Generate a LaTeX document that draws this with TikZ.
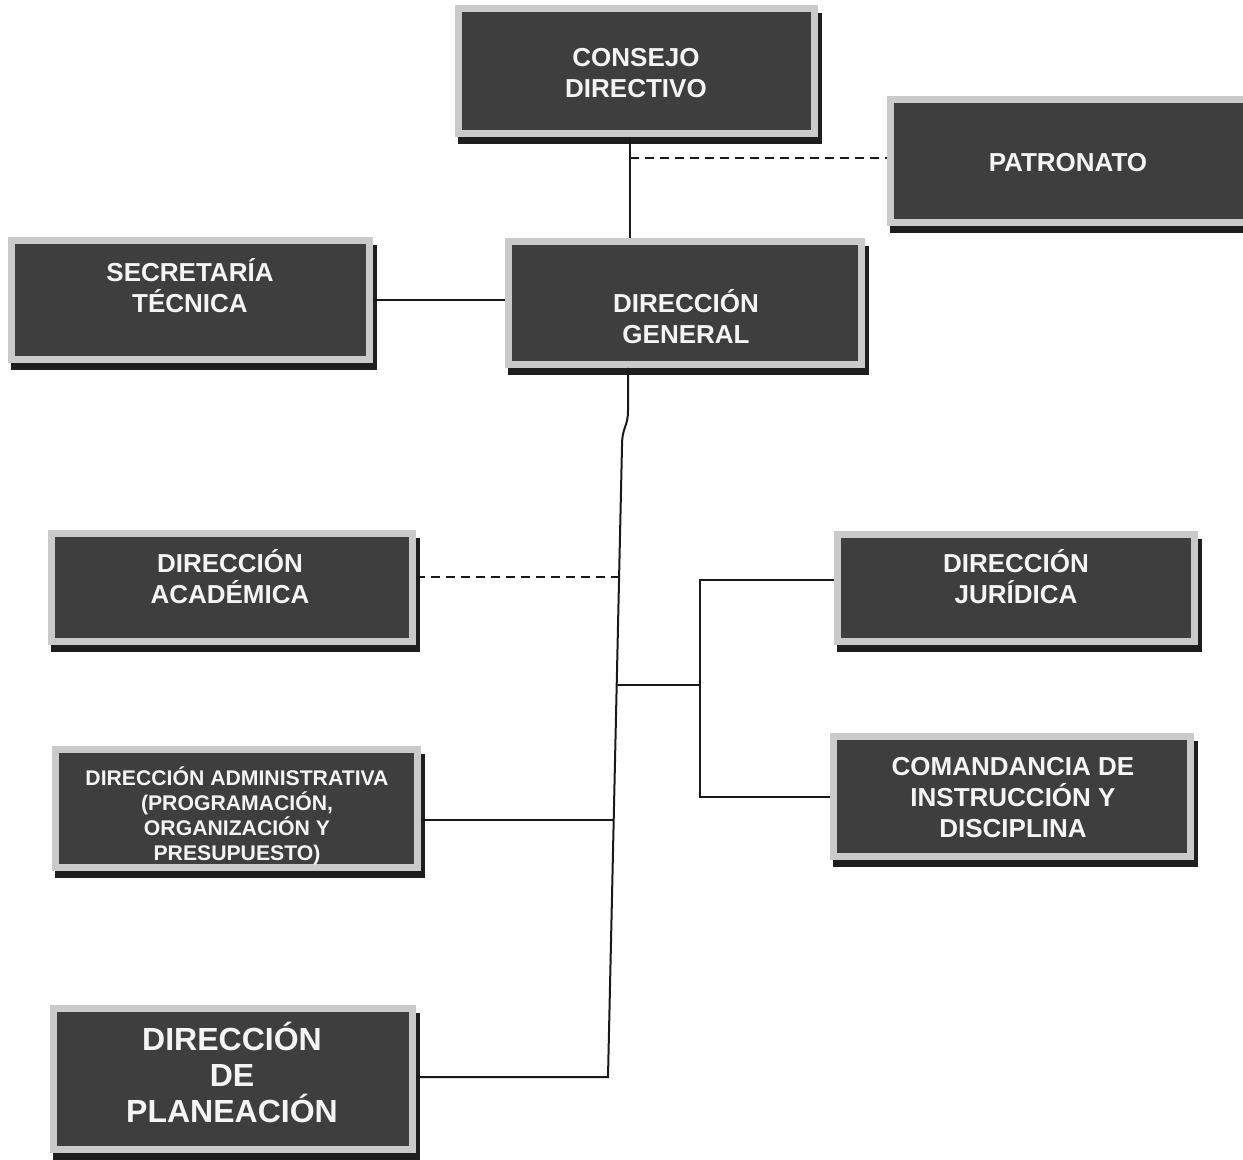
\documentclass[tikz,border=0pt]{standalone}
\usepackage{fontspec}
\setmainfont{Liberation Sans}
\definecolor{boxdark}{HTML}{3E3E3E}
\definecolor{boxlight}{HTML}{CACACA}
\definecolor{boxtext}{HTML}{F4F4F4}
\definecolor{shadowc}{HTML}{1E1E1E}
\tikzset{
  orgbox/.style={rectangle, fill=boxdark, draw=boxlight, line width=3.5pt, inner sep=0pt},
  lbl/.style={text=boxtext, font=\bfseries\fontsize{13}{15.5}\selectfont, align=center, inner sep=0pt},
  lblsmall/.style={lbl, font=\bfseries\fontsize{10.6}{12.5}\selectfont},
  lblbig/.style={lbl, font=\bfseries\fontsize{16}{18}\selectfont},
  link/.style={line width=1pt, draw=black!90},
  dashlink/.style={line width=1.4pt, draw=black!90, dash pattern=on 4.5pt off 3pt}
}
% name, left, top, right, bottom (pixel units)
\newcommand{\mkbox}[5]{%
  \fill[shadowc] ({#2+3},{#3+8}) rectangle ({#4+4},{#5+7});
  \node[orgbox, minimum width={(#4-#2-7)*0.5pt}, minimum height={(#5-#3-7)*0.5pt}] (#1) at ({(#2+#4)/2},{(#3+#5)/2}) {};
}
\begin{document}
\begin{tikzpicture}[x=0.5pt,y=-0.5pt]
\useasboundingbox[fill=white] (0,0) rectangle (1243,1160);
\clip (0,0) rectangle (1243,1160);

\mkbox{cd}{455}{5}{818}{137}
\mkbox{pat}{887}{96}{1262}{226}
\mkbox{st}{8}{237}{373}{363}
\mkbox{dg}{505}{238}{865}{368}
\mkbox{da}{48}{530}{416}{645}
\mkbox{dj}{834}{531}{1198}{645}
\mkbox{adm}{52}{746}{421}{871}
\mkbox{com}{830}{733}{1194}{860}
\mkbox{pln}{50}{1005}{416}{1153}

\node[lbl] (cdt) at (636,73) {CONSEJO\\DIRECTIVO};
\node[lbl] (patt) at (1068,163) {PATRONATO};
\node[lbl] (stt) at (190,286) {SECRETARÍA\\TÉCNICA};
\node[lbl] (dgt) at (686,317) {DIRECCIÓN\\GENERAL};
\node[lbl] (dat) at (230,577) {DIRECCIÓN\\ACADÉMICA};
\node[lbl] (djt) at (1016,577) {DIRECCIÓN\\JURÍDICA};
\node[lblsmall] (admt) at (237,816) {DIRECCIÓN ADMINISTRATIVA\\(PROGRAMACIÓN,\\ORGANIZACIÓN Y\\PRESUPUESTO)};
\node[lbl] (comt) at (1013,798) {COMANDANCIA DE\\INSTRUCCIÓN Y\\DISCIPLINA};
\node[lblbig] (plnt) at (232,1072) {DIRECCIÓN\\DE\\PLANEACIÓN};

\coordinate (a0) at (630,158);
\draw[link] (cd.south -| a0) -- (dg.north -| a0);
\draw[dashlink] (a0) -- (pat.west |- a0);
\coordinate (b0) at (0,300);
\draw[link] (st.east |- b0) -- (dg.west |- b0);

\coordinate (t1) at (628,410);
\coordinate (t2) at (622,446);
\coordinate (tA) at (619,577);
\coordinate (tJ) at (616.5,685);
\coordinate (tM) at (613.6,820);
\coordinate (tP) at (608,1077);
\draw[link] (dg.south -| t1) -- (t1) .. controls (628,428) and (622,426) .. (t2) -- (tP) -- (pln.east |- tP);
\draw[dashlink] (da.east |- tA) -- (tA);
\draw[link] (adm.east |- tM) -- (tM);
\coordinate (r1) at (700,580);
\coordinate (r2) at (700,797);
\draw[link] (tJ) -- (r1 |- tJ);
\draw[link] (dj.west |- r1) -- (r1) -- (r2) -- (com.west |- r2);
\end{tikzpicture}
\end{document}
